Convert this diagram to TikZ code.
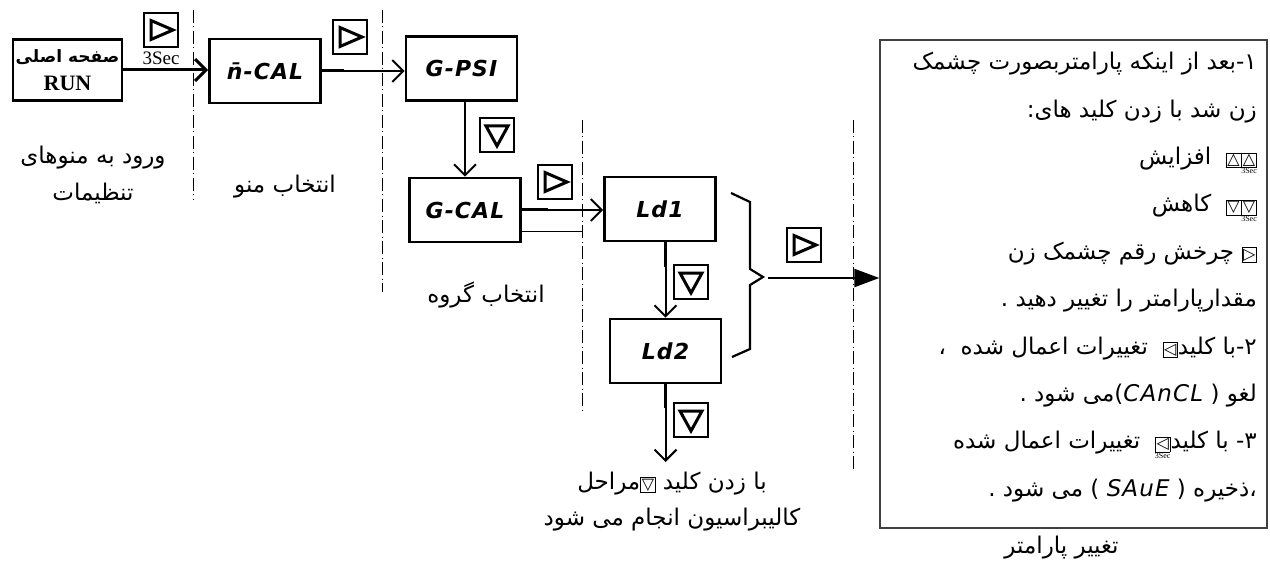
\documentclass[tikz,border=0pt]{standalone}
\usepackage{fontspec}
\usetikzlibrary{positioning,arrows.meta}
\setmainfont{Liberation Serif}
\newfontfamily\arabicfont[Script=Arabic]{DejaVu Sans}
\newfontfamily\symfont{DejaVu Sans}
\newfontfamily\segfont[LetterSpace=5]{DejaVu Sans}
\TeXXeTstate=1
% small key symbols inside the notes
\newcommand{\keyin}[1]{{\setlength{\fboxsep}{0.8pt}\setlength{\fboxrule}{0.7pt}\fbox{\symfont\fontsize{16}{16}\selectfont #1}}}
\newcommand{\keysec}[1]{\vtop{\offinterlineskip\halign{\hfil##\hfil\cr\keyin{#1}\cr
   \noalign{\kern0.5pt}{\rmfamily\fontsize{8}{8}\selectfont 3Sec}\cr}}}
\newcommand{\seg}[1]{{\segfont\itshape #1}}

\begin{document}
\begin{tikzpicture}[x=1pt,y=-1pt,
  font=\arabicfont\fontsize{23}{27}\selectfont,
  disp/.style={draw,line width=2.6pt,minimum width=111pt,minimum height=64pt,inner sep=0pt,
               font=\segfont\bfseries\itshape\fontsize{22}{22}\selectfont},
  keybig/.style={draw,line width=1.2pt,minimum size=34pt,inner sep=0pt},
  keyright/.style={keybig,path picture={\draw[line width=3pt,line join=miter,
      shift={(path picture bounding box.center)}] (-10,-9.5) -- (-10,9.5) -- (12,0) -- cycle;}},
  keydown/.style={keybig,path picture={\draw[line width=3pt,line join=miter,
      shift={(path picture bounding box.center)}] (-11,-9) -- (11,-9) -- (0,11) -- cycle;}},
  flow/.style={line width=2pt,-{Straight Barb[length=11pt,width=22pt]}},
  stub/.style={line width=3pt},
  sep/.style={line width=1pt,dash pattern=on 13pt off 3.5pt on 1pt off 3.5pt},
  note/.style={align=center,font=\arabicfont\fontsize{23}{37}\selectfont},
]
\useasboundingbox (0,0) rectangle (1270,567);

% display boxes
\node[disp,align=center,minimum width=109pt,minimum height=61pt,
      font=\arabicfont\bfseries\fontsize{17}{28}\selectfont] (run) at (67.5,70)
   {\beginR صفحه اصلی\endR\\{\rmfamily\bfseries\fontsize{22}{22}\selectfont RUN}};
\node[disp] (mcal) at (265,71) {n̄-CAL};
\node[disp] (gpsi) at (461.5,68.5) {G-PSI};
\node[disp] (gcal) at (465,210) {G-CAL};
\node[disp] (ld1) at (660,209) {Ld1};
\node[disp] (ld2) at (665.5,351) {Ld2};

% keys
\node[keyright] (kenter) at (161,30) {};
\node[font=\rmfamily\fontsize{19}{19}\selectfont,below=1pt of kenter] (ksec) {3Sec};
\node[keyright] (kmenu) at (350,37) {};
\node[keydown] (kgpsi) at (497,135) {};
\node[keyright] (kgcal) at (555,182) {};
\node[keydown] (kld1) at (691,282) {};
\node[keydown] (kld2) at (691,420) {};
\node[keyright] (kparam) at (804,245) {};

% separators
\draw[sep] (193,10) -- (193,200);
\draw[sep] (382,10) -- (382,292);
\draw[sep] (582,120) -- (582,412);
\draw[sep] (853,120) -- (853,472);

% connectors
\draw[flow,line width=3pt] (run.east) -- (run.east -| mcal.west);
\draw[stub] (mcal.east) -- ++(22,0);
\draw[flow] (mcal.east) -- (mcal.east -| gpsi.west);
\draw[flow] (gcal.north |- gpsi.south) -- (gcal.north);
\draw[stub] (gcal.east) -- ++(26,0);
\draw[flow] (gcal.east) -- (gcal.east -| ld1.west);
\coordinate (gcaltail) at (582,231);
\draw[line width=0.8pt] (gcal.east |- gcaltail) -- (gcaltail);
\draw[stub] (ld2.north |- ld1.south) -- ++(0,25);
\draw[flow] (ld2.north |- ld1.south) -- (ld2.north);
\coordinate (calib) at (665.5,462);
\draw[stub] (ld2.south) -- ++(0,24);
\draw[flow] (ld2.south) -- (calib);

% brace and parameter box
\draw[line width=2.2pt] (731,193) -- (750,202) -- (750,269) -- (763,277) -- (750,285) -- (750,349) -- (732,357);
\coordinate (bracetip) at (768,278);
\node[draw=black!75,line width=1.3pt,minimum width=387pt,minimum height=488pt] (param) at (1073.5,284) {};
\draw[line width=2.2pt,-{Triangle[length=25pt,width=18pt]}] (bracetip) -- (bracetip -| param.west);

\node[anchor=north east,align=right,inner sep=0pt,
      font=\arabicfont\fontsize{23}{47.4}\selectfont] (paramtxt) at (1257,52) {%
\beginR ۱-بعد از اینکه پارامتربصورت چشمک\endR\\
\beginR زن شد با زدن کلید های:\endR\\
\beginR \keysec{△}\keyin{△}\ \ افزایش\endR\\
\beginR \keysec{▽}\keyin{▽}\ \ کاهش\endR\\
\beginR \keyin{▷} چرخش رقم چشمک زن\endR\\
\beginR مقدارپارامتر را تغییر دهید .\endR\\
\beginR ۲-با کلید\keyin{◁}\ \ تغییرات اعمال شده \ ،\endR\\
\beginR لغو ( \beginL\seg{CAnCL}\endL)می شود .\endR\\
\beginR ۳- با کلید\keysec{◁}\ \ تغییرات اعمال شده\endR\\
\beginR ،ذخیره ( \beginL\seg{SAuE}\endL\ ) می شود .\endR};
\node[below=4pt of param,xshift=-12pt] (paramlbl) {\beginR تغییر پارامتر\endR};

% step labels
\node[note] (runlbl) at (93,175) {\beginR ورود به منوهای\endR\\\beginR تنظیمات\endR};
\node (mcallbl) at (285,187) {\beginR انتخاب منو\endR};
\node (gcallbl) at (486,295) {\beginR انتخاب گروه\endR};
\node[note,anchor=north,font=\arabicfont\fontsize{23}{36}\selectfont] (caliblbl) at (672,468)
   {\beginR با زدن کلید \keyin{▽}مراحل\endR\\\beginR کالیبراسیون انجام می شود\endR};
\end{tikzpicture}
\end{document}
